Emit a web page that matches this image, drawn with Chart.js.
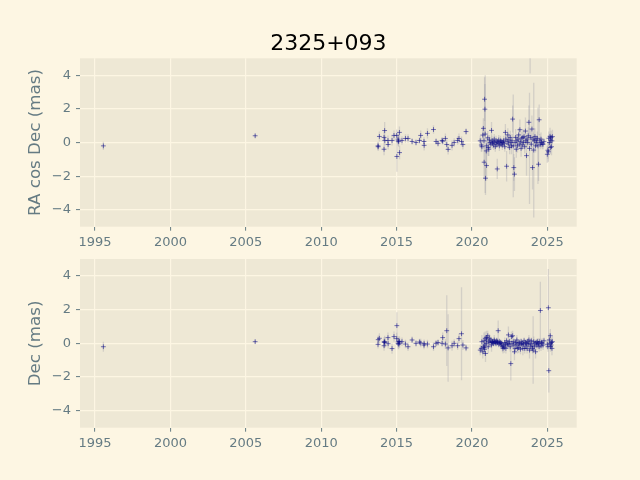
<!DOCTYPE html>
<html>
<head>
<meta charset="utf-8">
<script src="https://cdn.jsdelivr.net/npm/chart.js@4.4.1/dist/chart.umd.min.js"></script>
<style>
  html, body { margin: 0; padding: 0; background: #fdf6e3; }
  #wrap { position: relative; width: 640px; height: 480px; }
  #wrap canvas { position: absolute; left: 0; top: 0; }
</style>
</head>
<body>
<div id="wrap">
  <canvas id="raChart" width="640" height="480"></canvas>
  <canvas id="decChart" width="640" height="480"></canvas>
</div>
<script>
const sourceName = '2325+093';
const xTicks = [1995, 2000, 2005, 2010, 2015, 2020, 2025];
const yTicks = [-4, -2, 0, 2, 4];

// observation epochs (decimal year)
const epochs = [
  1995.55, 2005.62,
  2013.77, 2013.78, 2013.86, 2014.17, 2014.21, 2014.17, 2014.22, 2014.43, 2014.44, 2014.70,
  2014.83, 2015.01, 2015.02, 2015.10, 2015.11, 2015.14, 2015.19, 2015.20, 2015.36, 2015.59,
  2015.76, 2016.03, 2016.29, 2016.52, 2016.60, 2016.82, 2016.83, 2017.05, 2017.45, 2017.62,
  2017.75, 2018.02, 2018.06, 2018.24, 2018.33, 2018.42, 2018.68, 2018.82, 2019.05, 2019.14,
  2019.31, 2019.40, 2019.61,
  2020.55, 2020.62, 2020.66, 2020.72, 2020.76, 2020.80, 2020.84, 2020.86, 2020.88, 2020.81,
  2020.90, 2020.97, 2020.95, 2020.98, 2021.05, 2021.08, 2021.12, 2021.16, 2021.20, 2021.25,
  2021.30, 2021.33, 2021.36, 2021.40, 2021.44, 2021.48, 2021.52, 2021.55, 2021.60, 2021.64,
  2021.68, 2021.70, 2021.74, 2021.78, 2021.82, 2021.86, 2021.90, 2021.94, 2021.98, 2022.02,
  2022.06, 2022.10, 2022.14, 2022.18, 2022.22, 2022.25, 2022.30, 2022.34, 2022.38, 2022.42,
  2022.45, 2022.50, 2022.54, 2022.58, 2022.62, 2022.66, 2022.70, 2022.74, 2022.78, 2022.82,
  2022.86, 2022.90, 2022.94, 2022.98, 2023.02, 2023.06, 2023.10, 2023.14, 2023.18, 2023.22,
  2023.26, 2023.30, 2023.34, 2023.38, 2023.42, 2023.46, 2023.50, 2023.55, 2023.58, 2023.62,
  2023.66, 2023.70, 2023.74, 2023.78, 2023.82, 2023.86, 2023.90, 2023.94, 2023.98, 2024.02,
  2024.06, 2024.10, 2024.14, 2024.18, 2024.22, 2024.26, 2024.30, 2024.34, 2024.38, 2024.42,
  2024.46, 2024.50, 2024.54, 2024.58, 2024.62, 2024.66, 2024.72, 2024.78, 2025.00, 2025.04,
  2025.07, 2025.10, 2025.14, 2025.18, 2025.20, 2025.22, 2025.25, 2025.28, 2025.31, 2025.34
];

// RA cos Dec offsets and errors (mas)
const raOffset = [
  -0.20, 0.40,
  -0.20, -0.25, 0.36, 0.30, 0.71, -0.40, 0.12, 0.12, -0.12, 0.12,
  0.42, 0.42, -0.83, 0.20, 0.10, 0.05, 0.60, -0.60, 0.12, 0.24,
  0.24, 0.06, 0.00, 0.12, 0.42, 0.06, -0.17, 0.54, 0.77, 0.06,
  -0.05, 0.12, 0.08, 0.24, -0.12, -0.41, -0.17, 0.00, 0.12, 0.24,
  0.06, -0.12, 0.65,
  0.10, -0.15, -0.25, 0.44, 0.84, 0.10, 2.57, 1.98, 0.50, -1.17,
  -2.12, -1.37, -0.50, -0.20, 0.28, -0.30, -0.40, 0.15, 0.00, -0.10,
  0.72, 0.10, -0.05, 0.05, -0.15, 0.20, 0.00, -0.25, 0.10, -0.10,
  -1.57, 0.05, -0.05, 0.15, -0.20, 0.00, 0.10, -0.10, 0.05, -0.15,
  0.00, 0.10, -0.05, -0.25, 0.60, 0.20, -1.41, 0.05, 0.45, -0.10,
  0.15, -0.30, 0.30, 0.00, -0.20, 0.10, 1.39, -0.20, -1.49, -1.88,
  0.00, 0.30, -0.40, 0.10, -0.20, 0.20, 0.45, -0.10, 0.76, 0.05,
  -0.35, 0.25, -0.15, 0.30, 0.00, 0.35, -0.25, 0.68, 0.10, -0.78,
  0.20, 0.00, 0.40, 1.20, -0.35, 7.00, 0.30, -0.10, 0.80, -1.49,
  0.20, -0.45, 0.10, 0.35, -0.20, 0.15, 0.00, 0.25, -0.20, -1.29,
  1.35, 0.10, -0.10, 0.20, 0.00, -0.10, -0.10, 0.05, -0.70, -0.46,
  -0.55, 0.25, 0.00, 0.37, -0.30, 0.15, 0.30, -0.25, 0.10, 0.35
];
const raError = [
  0.25, 0.10,
  0.25, 0.25, 0.30, 0.35, 0.50, 0.35, 0.30, 0.30, 0.30, 0.30,
  0.30, 0.35, 0.90, 0.30, 0.30, 0.30, 0.35, 0.40, 0.25, 0.25,
  0.25, 0.20, 0.20, 0.20, 0.30, 0.25, 0.30, 0.30, 0.25, 0.20,
  0.20, 0.20, 0.20, 0.30, 0.30, 0.30, 0.30, 0.25, 0.25, 0.30,
  0.30, 0.30, 0.20,
  0.30, 0.40, 0.30, 0.50, 0.60, 0.50, 1.30, 1.50, 3.50, 1.00,
  1.00, 0.90, 0.60, 0.50, 0.40, 0.50, 0.40, 0.30, 0.30, 0.30,
  0.50, 0.30, 0.30, 0.20, 0.30, 0.30, 0.20, 0.30, 0.30, 0.20,
  0.60, 0.20, 0.20, 0.30, 0.30, 0.20, 0.30, 0.20, 0.20, 0.30,
  0.20, 0.30, 0.20, 0.30, 0.50, 0.30, 0.90, 0.30, 0.40, 0.30,
  0.30, 0.40, 0.40, 0.30, 0.50, 0.40, 0.80, 3.05, 0.80, 1.00,
  0.40, 0.50, 0.50, 0.30, 0.40, 0.30, 0.40, 0.30, 0.60, 0.30,
  0.50, 0.40, 0.30, 0.50, 0.30, 0.40, 0.40, 0.80, 0.30, 1.20,
  0.40, 0.30, 0.50, 1.00, 3.30, 2.90, 0.50, 0.40, 0.80, 1.30,
  0.40, 4.00, 0.30, 0.50, 0.40, 0.30, 0.30, 0.40, 2.27, 1.00,
  0.90, 0.40, 0.30, 0.40, 0.30, 0.30, 0.30, 0.20, 0.50, 0.50,
  0.60, 0.40, 0.30, 0.50, 0.40, 0.30, 0.40, 0.50, 0.30, 0.40
];

// Dec offsets and errors (mas)
const decOffset = [
  -0.20, 0.10,
  -0.06, 0.22, 0.30, 0.08, 0.10, -0.14, 0.05, 0.34, -0.02, -0.31,
  0.40, 0.28, 1.05, 0.00, 0.10, -0.05, 0.12, 0.02, 0.10, -0.04,
  -0.20, 0.20, 0.00, 0.08, 0.02, -0.10, -0.02, -0.04, -0.20, 0.00,
  0.05, 0.00, 0.34, -0.04, 0.75, -0.27, -0.14, 0.00, -0.14, 0.28,
  0.57, -0.10, -0.27,
  -0.40, -0.30, 0.10, -0.50, -0.20, 0.15, -0.35, -0.10, 0.30, -0.25,
  -0.60, 0.35, 0.00, 0.20, 0.45, -0.20, 0.10, 0.30, 0.05, 0.20,
  -0.10, 0.10, 0.05, 0.10, 0.00, 0.20, 0.10, 0.05, 0.00, 0.15,
  0.10, 0.05, 0.75, -0.05, 0.10, 0.00, 0.05, -0.10, 0.00, -0.20,
  -0.30, -0.15, -0.25, 0.05, -0.05, -0.30, 0.15, -0.10, 0.00, 0.50,
  -0.05, 0.10, -0.20, -1.20, 0.40, 0.00, 0.45, -0.10, 0.10, -0.50,
  -0.30, 0.05, -0.10, 0.20, -0.30, 0.00, -0.25, 0.05, -0.10, -0.35,
  0.10, -0.05, 0.00, -0.30, -0.05, 0.15, -0.30, 0.05, -0.15, 0.00,
  -0.30, 0.10, -0.05, 0.20, -0.40, 0.00, -0.20, 0.15, -0.10, -0.30,
  -0.40, 0.10, -0.20, 0.00, -0.50, 0.05, -0.10, 0.10, -0.05, 0.00,
  -0.20, 0.10, 1.95, -0.15, 0.05, 0.00, -0.10, 0.15, -0.05, -0.20,
  2.11, -1.62, 0.20, 0.00, 0.45, -0.20, -0.10, 0.05, -0.30, 0.10
];
const decError = [
  0.30, 0.10,
  0.25, 0.25, 0.30, 0.30, 0.35, 0.30, 0.30, 0.30, 0.30, 0.30,
  0.30, 0.35, 0.80, 0.30, 0.30, 0.30, 0.30, 0.30, 0.25, 0.25,
  0.25, 0.20, 0.20, 0.20, 0.25, 0.25, 0.25, 0.25, 0.25, 0.20,
  0.20, 0.20, 0.30, 0.30, 2.10, 2.00, 0.30, 0.25, 0.25, 0.30,
  2.75, 0.30, 0.20,
  0.30, 0.25, 0.40, 0.40, 0.30, 0.50, 0.40, 0.30, 0.40, 0.35,
  0.50, 0.40, 0.35, 0.30, 0.30, 0.40, 0.30, 0.25, 0.30, 0.20,
  0.40, 0.20, 0.20, 0.20, 0.20, 0.30, 0.20, 0.20, 0.20, 0.20,
  0.20, 0.20, 0.60, 0.20, 0.20, 0.20, 0.20, 0.25, 0.20, 0.30,
  0.30, 0.20, 0.30, 0.30, 0.20, 0.30, 0.20, 0.20, 0.20, 0.50,
  0.30, 0.20, 0.30, 1.00, 0.30, 0.20, 0.30, 0.30, 0.20, 0.50,
  0.30, 0.20, 0.30, 0.30, 0.30, 0.20, 0.30, 0.20, 0.20, 0.30,
  0.20, 0.30, 0.20, 0.40, 0.20, 0.20, 0.30, 0.20, 0.30, 0.20,
  0.30, 0.20, 0.30, 0.30, 0.50, 0.20, 0.30, 0.20, 0.30, 0.30,
  2.00, 0.30, 0.30, 0.20, 0.40, 0.20, 0.30, 0.20, 0.30, 0.30,
  0.30, 0.20, 1.70, 0.30, 0.20, 0.30, 0.30, 0.20, 0.30, 0.30,
  2.30, 1.30, 0.40, 0.30, 0.40, 0.30, 0.30, 0.30, 0.40, 0.30
];

const textColor = '#657b83';
const fontFamily = 'DejaVu Sans';
const fmtTick = v => v < 0 ? '\u2212' + Math.abs(v) : String(v);

function axesBg(){
  return { id: 'axesBg', beforeDraw(chart){
    const {ctx, chartArea: a} = chart;
    ctx.save(); ctx.fillStyle = '#eee8d5';
    ctx.fillRect(a.left, a.top, a.right - a.left, a.bottom - a.top);
    ctx.restore();
  }};
}

function errBars(vals, errs){
  return { id: 'errBars', beforeDatasetsDraw(chart){
    const {ctx, chartArea: a, scales: {x, y}} = chart;
    ctx.save();
    ctx.beginPath(); ctx.rect(a.left, a.top, a.right - a.left, a.bottom - a.top); ctx.clip();
    ctx.strokeStyle = 'rgba(150,150,165,0.3)'; ctx.lineWidth = 1.3;
    epochs.forEach((t, i) => {
      const px = x.getPixelForValue(t);
      ctx.beginPath();
      ctx.moveTo(px, y.getPixelForValue(vals[i] - errs[i]));
      ctx.lineTo(px, y.getPixelForValue(vals[i] + errs[i]));
      ctx.stroke();
    });
    ctx.restore();
  }};
}

const titlePlugin = { id: 'figTitle', afterDraw(chart){
  const {ctx, chartArea: a} = chart;
  ctx.save();
  ctx.font = '22px "' + fontFamily + '"';
  ctx.fillStyle = '#000'; ctx.textAlign = 'center'; ctx.textBaseline = 'alphabetic';
  ctx.fillText(sourceName, (a.left + a.right) / 2, 49.5);
  ctx.restore();
}};

function makeChart(id, vals, errs, label, padTop, padBottom, extra){
  const pts = epochs.map((t, i) => ({x: t, y: vals[i]}));
  return new Chart(document.getElementById(id), {
    type: 'scatter',
    data: { datasets: [{
      data: pts, pointStyle: 'cross', pointRadius: 2.4, pointBorderWidth: 1,
      pointBorderColor: 'rgba(10,10,135,0.55)', pointBackgroundColor: 'rgba(10,10,135,0.55)'
    }]},
    options: {
      responsive: false, animation: false, events: [],
      layout: { padding: { left: 0, right: 63.3, top: padTop, bottom: padBottom } },
      plugins: { legend: { display: false }, tooltip: { enabled: false } },
      scales: {
        x: {
          type: 'linear', min: 1994.0, max: 2026.95,
          afterBuildTicks: s => { s.ticks = xTicks.map(v => ({value: v})); },
          afterFit: s => { s.height = 40; },
          grid: { color: '#fdf6e3', lineWidth: 1.2, tickColor: textColor, tickLength: 4, tickWidth: 1 },
          border: { display: false },
          ticks: { color: textColor, padding: 4, maxRotation: 0, font: { family: fontFamily, size: 13 }, callback: v => String(v) }
        },
        y: {
          type: 'linear', min: -5, max: 5,
          afterBuildTicks: s => { s.ticks = yTicks.map(v => ({value: v})); },
          afterFit: s => { s.width = 80; },
          grid: { color: '#fdf6e3', lineWidth: 1.2, tickColor: textColor, tickLength: 4, tickWidth: 1 },
          border: { display: false },
          ticks: { color: textColor, padding: 5, font: { family: fontFamily, size: 13 }, callback: fmtTick },
          title: { display: true, text: label, color: textColor, padding: { top: 26, bottom: 0 },
                   font: { family: fontFamily, size: 16.7 } }
        }
      }
    },
    plugins: [axesBg(), errBars(vals, errs)].concat(extra || [])
  });
}

makeChart('raChart', raOffset, raError, 'RA cos Dec (mas)', 58.3, 213.3, [titlePlugin]);
makeChart('decChart', decOffset, decError, 'Dec (mas)', 259, 12.3);
</script>
</body>
</html>
